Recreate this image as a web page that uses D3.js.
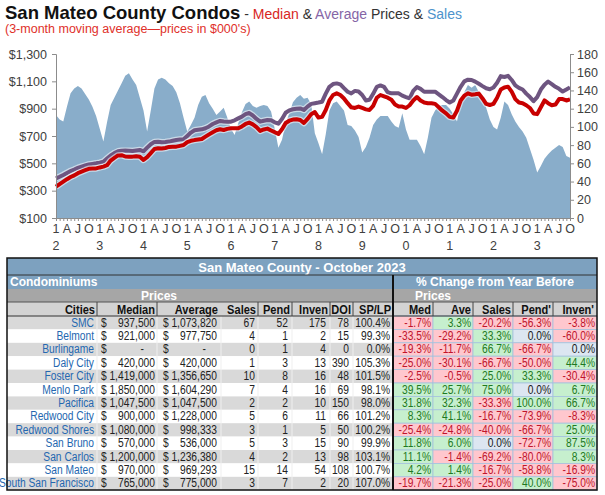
<!DOCTYPE html>
<html>
<head>
<meta charset="utf-8">
<script src="https://cdn.jsdelivr.net/npm/d3@7"></script>
<style>
  body { margin: 0; background: #fff; }
  svg { display: block; font-family: "Liberation Sans", Arial, sans-serif; }
</style>
</head>
<body>
<div class="chart"></div>
<script>
// ---- chart data: monthly, Jan 2012 .. Oct 2023 (3-month moving averages) ----
const salesData = [
  113,108,106,122,137,142,145,142,136,130,122,112,
  98,84,105,124,132,140,148,156,159,152,146,132,
  118,95,118,142,152,154,152,148,145,138,126,110,
  95,102,110,124,133,135,126,120,113,117,121,110,
  98,91,104,116,125,128,123,121,123,124,123,117,
  98,77,86,104,115,127,132,135,131,132,125,93,
  82,70,92,118,126,128,123,118,102,101,96,89,
  72,78,88,102,108,112,112,112,106,101,99,115,
  97,86,86,86,79,70,88,110,118,123,124,124,
  120,114,106,126,138,146,143,146,138,130,121,108,
  100,97,110,128,124,114,106,100,95,88,76,64,
  50,57,65,70,74,77,80,78,68,66
];
const medianData = [
  329,348,366,384,400,412,428,439,450,460,463,463,
  470,476,486,520,540,558,560,550,549,549,552,548,
  525,545,575,605,610,608,612,620,622,622,628,634,
  655,665,670,674,678,695,712,728,742,749,744,752,
  756,756,756,770,788,798,785,765,737,748,754,740,
  728,715,750,795,812,820,822,817,795,825,860,875,
  835,840,890,960,1000,1012,1000,975,940,910,905,915,
  905,895,890,920,980,1000,990,980,965,930,915,915,
  905,925,960,985,960,945,940,940,935,910,885,866,
  840,835,885,960,995,1012,1002,1005,1010,975,935,927,
  935,980,1040,1055,1061,1025,970,945,940,925,905,865,
  860,910,960,940,925,930,970,970,960,968
];
const averageData = [
  390,402,415,430,444,455,467,476,484,492,496,500,
  505,512,535,558,575,588,592,593,592,590,594,598,
  588,615,640,657,658,654,656,659,665,671,674,676,
  700,725,742,746,749,757,770,788,800,810,806,805,
  805,815,829,842,860,868,850,825,805,812,817,815,
  800,790,825,870,888,896,900,902,890,915,935,940,
  945,951,1010,1060,1080,1085,1078,1050,1024,1012,1030,1025,
  1000,960,965,1008,1060,1070,1060,1020,1012,1012,1012,995,
  985,976,1030,1058,1045,1024,1024,1024,1024,1005,985,963,
  945,960,1010,1060,1100,1112,1110,1098,1082,1065,1049,1042,
  1055,1090,1138,1132,1140,1110,1070,1052,1040,1010,985,955,
  985,1040,1075,1098,1080,1060,1045,1025,1040,1056
];
const quarterLabels = ["1","A","J","O"];
const yearLabels = ["2","3","4","5","6","7","8","9","0","1","2","3"];
const priceTicks = [100,300,500,700,900,1100,1300];
const salesTicks = [0,20,40,60,80,100,120,140,160,180];

// ---- table data ----
const cities = ["SMC","Belmont","Burlingame","Daly City","Foster City","Menlo Park","Pacifica",
  "Redwood City","Redwood Shores","San Bruno","San Carlos","San Mateo","South San Francisco"];
const tMedian = [937500,921000,null,420000,1419000,1850000,1047500,900000,1080000,570000,1200000,970000,765000];
const tAverage = [1073820,977750,null,420000,1356650,1604290,1047500,1228000,998333,536000,1236380,969293,775000];
const tSales = [67,4,0,1,10,7,2,5,3,5,4,15,3];
const tPend = [52,1,1,3,8,4,2,6,1,3,2,14,7];
const tInven = [175,2,4,13,16,16,10,11,5,15,13,54,2];
const tDOI = [78,15,0,390,48,69,150,66,50,90,98,108,20];
const tSPLP = [100.4,99.3,0.0,105.3,101.5,98.1,98.0,101.2,100.2,99.9,103.1,100.7,107.0];
const chgMed = [-1.7,-33.5,-19.3,-25.0,-2.5,39.5,31.8,8.3,-25.4,11.8,11.1,4.2,-19.7];
const chgAve = [3.3,-29.2,-11.7,-30.1,-0.5,25.7,32.3,41.1,-24.8,6.0,-1.4,1.4,-21.3];
const chgSales = [-20.2,33.3,66.7,-66.7,25.0,75.0,-33.3,-16.7,-40.0,0.0,-69.2,-16.7,-25.0];
const chgPend = [-56.3,0.0,-66.7,-50.0,33.3,0.0,100.0,-73.9,-66.7,-72.7,-80.0,-58.8,40.0];
const chgInven = [-3.8,-60.0,0.0,44.4,-30.4,6.7,66.7,-8.3,25.0,87.5,8.3,-16.9,-75.0];

const svg = d3.select(".chart").append("svg")
  .attr("width", 605)
  .attr("height", 495);

// ---- titles ----
const title = svg.append("text").attr("x", 5).attr("y", 19);
title.append("tspan").attr("font-weight", "bold").attr("font-size", "18.5px").attr("fill", "#111")
  .text("San Mateo County Condos");
[[" - ", "#333"], ["Median", "#d8261e"], [" & ", "#333"], ["Average", "#8565a6"],
 [" Prices & ", "#333"], ["Sales", "#4d93cc"]].forEach(p => {
  title.append("tspan").attr("font-size", "14px").attr("fill", p[1]).text(p[0]);
});
svg.append("text")
  .attr("x", 5).attr("y", 33)
  .attr("font-size", "12.5px")
  .attr("fill", "#e0302a")
  .text("(3-month moving average\u2014prices in $000's)");

// ---- chart ----
const xScale = d3.scaleLinear().domain([0, salesData.length - 1]).range([56, 570]);
const yLeft = d3.scaleLinear().domain([100, 1300]).range([218, 54]);
const yRight = d3.scaleLinear().domain([0, 180]).range([218, 54]);

svg.append("path")
  .datum(salesData)
  .attr("fill", "#89adca")
  .attr("d", d3.area().x((d, i) => xScale(i)).y0(yRight(0)).y1(d => yRight(d)));

const priceLine = d3.line().x((d, i) => xScale(i)).y(d => yLeft(d));
[[averageData, "#6e5580"], [medianData, "#c80000"]].forEach(s => {
  svg.append("path").datum(s[0])
    .attr("fill", "none").attr("stroke", "#fff").attr("stroke-opacity", 0.55)
    .attr("stroke-width", 6.5).attr("stroke-linejoin", "round")
    .attr("d", priceLine);
  svg.append("path").datum(s[0])
    .attr("fill", "none").attr("stroke", s[1])
    .attr("stroke-width", 4).attr("stroke-linejoin", "round")
    .attr("d", priceLine);
});

function styleAxis(g) {
  g.selectAll(".domain, line").attr("stroke", "#8c8c8c");
  g.selectAll("text").attr("fill", "#404040").attr("font-size", "12.5px")
    .attr("font-family", "'Liberation Sans', Arial, sans-serif");
}

svg.append("g")
  .attr("transform", "translate(56,0)")
  .call(d3.axisLeft(yLeft).tickValues(priceTicks).tickSize(4).tickPadding(5)
    .tickFormat(d => "$" + d3.format(",")(d)))
  .call(styleAxis);

svg.append("g")
  .attr("transform", "translate(570,0)")
  .call(d3.axisRight(yRight).tickValues(salesTicks).tickSize(4).tickPadding(3))
  .call(styleAxis);

svg.append("g")
  .attr("transform", "translate(0,218)")
  .call(d3.axisBottom(xScale).tickValues(d3.range(0, salesData.length)).tickSize(3).tickFormat(""))
  .call(styleAxis);

const qIdx = d3.range(0, salesData.length, 3);
svg.append("g").selectAll("text")
  .data(qIdx).enter().append("text")
  .attr("x", d => xScale(d)).attr("y", 233)
  .attr("text-anchor", "middle").attr("font-size", "12.5px").attr("fill", "#404040")
  .text(d => quarterLabels[(d / 3) % 4]);
svg.append("g").selectAll("text")
  .data(yearLabels).enter().append("text")
  .attr("x", (d, i) => xScale(i * 12)).attr("y", 250)
  .attr("text-anchor", "middle").attr("font-size", "12.5px").attr("fill", "#404040")
  .text(d => d);

// ---- table ----
const tb = svg.append("g");
const L = 7, R = 597, MID = 393;
const rowTop = 316, rowH = 13.4;
const leftCols = [97, 157, 221, 258, 292, 330, 353];
const rightCols = [393, 433, 473, 513, 553, 597];
const blueHead = "#7da1bf";
const squeeze = 0.82; // Arial Narrow look, no narrow font installed

// text drawn squeezed horizontally, anchored at (x, y)
function narrow(x, y, txt, opts) {
  opts = opts || {};
  return tb.append("text")
    .attr("transform", `translate(${x},${y}) scale(${squeeze},1)`)
    .attr("text-anchor", opts.anchor || "end")
    .attr("font-size", opts.size || "12px")
    .attr("font-weight", opts.weight || "normal")
    .attr("fill", opts.fill || "#222")
    .text(txt);
}

tb.append("rect").attr("x", L).attr("y", 258).attr("width", R - L).attr("height", 31).attr("fill", blueHead);
tb.append("rect").attr("x", L).attr("y", 289).attr("width", R - L).attr("height", 13).attr("fill", "#a6a6a6");
tb.append("rect").attr("x", L).attr("y", 302).attr("width", R - L).attr("height", 14).attr("fill", "#d3d3d3");

tb.append("text").attr("x", 302).attr("y", 271.5).attr("text-anchor", "middle")
  .attr("font-weight", "bold").attr("font-size", "13px").attr("fill", "#fff")
  .text("San Mateo County - October 2023");
tb.append("text").attr("x", 10).attr("y", 286)
  .attr("font-weight", "bold").attr("font-size", "12px").attr("fill", "#fff")
  .text("Condominiums");
tb.append("text").attr("x", 495).attr("y", 286).attr("text-anchor", "middle")
  .attr("font-weight", "bold").attr("font-size", "12px").attr("fill", "#fff")
  .text("% Change from Year Before");
[159, 433].forEach(cx => {
  tb.append("text").attr("x", cx).attr("y", 299.5).attr("text-anchor", "middle")
    .attr("font-weight", "bold").attr("font-size", "12px").attr("fill", "#fff")
    .text("Prices");
});

// data rows, left part
cities.forEach((c, r) => {
  tb.append("rect").attr("x", L).attr("y", rowTop + r * rowH)
    .attr("width", MID - L).attr("height", rowH)
    .attr("fill", r % 2 === 0 ? "#d9d9d9" : "#ffffff");
});
leftCols.forEach(cx => {
  tb.append("line").attr("x1", cx).attr("x2", cx).attr("y1", rowTop).attr("y2", 490)
    .attr("stroke", "#efefef").attr("stroke-width", 1);
});

// header labels
const headLeft = [["Cities", 95], ["Median", 155], ["Average", 218], ["Sales", 256], ["Pend", 290],
  ["Inven", 328], ["DOI", 351], ["SP/LP", 391]];
const headRight = [["Med", 431], ["Ave", 471], ["Sales", 511], ["Pend'", 551], ["Inven'", 594]];
headLeft.concat(headRight).forEach(h => {
  narrow(h[1], 313.5, h[0], {weight: "bold", size: "13.5px", fill: "#111"});
});

const fmt = d3.format(",");
const pct = v => v.toFixed(1) + "%";
function cell(x, r, txt, fill, anchor) {
  narrow(x, rowTop + r * rowH + 10.6, txt, {fill: fill, anchor: anchor, size: "12.5px"});
}
cities.forEach((c, r) => {
  cell(94, r, c, "#2467b0");
  cell(101, r, "$", "#222", "start");
  cell(163, r, "$", "#222", "start");
  cell(tMedian[r] === null ? 144 : 155, r, tMedian[r] === null ? "-" : fmt(tMedian[r]));
  cell(tAverage[r] === null ? 206 : 217, r, tAverage[r] === null ? "-" : fmt(tAverage[r]));
  cell(255, r, tSales[r]);
  cell(288, r, tPend[r]);
  cell(326, r, tInven[r]);
  cell(349, r, tDOI[r]);
  cell(390, r, pct(tSPLP[r]));
});

// data rows, right part (% change, coloured by sign)
const changes = [chgMed, chgAve, chgSales, chgPend, chgInven];
changes.forEach((col, j) => {
  col.forEach((v, r) => {
    const fill = v < 0 ? "#ffc7ce" : v > 0 ? "#c6efce" : "#dce6f1";
    const ink = v < 0 ? "#c0142c" : v > 0 ? "#1e7a22" : "#1a1a1a";
    tb.append("rect")
      .attr("x", rightCols[j]).attr("y", rowTop + r * rowH)
      .attr("width", rightCols[j + 1] - rightCols[j]).attr("height", rowH)
      .attr("fill", fill).attr("stroke", "#a4c2de").attr("stroke-width", 0.8);
    cell(rightCols[j + 1] - 2, r, pct(v), ink);
  });
});

// rules and borders
[[275, "#333"], [302, "#555"], [316, "#333"]].forEach(h => {
  tb.append("line").attr("x1", L).attr("x2", R).attr("y1", h[0]).attr("y2", h[0])
    .attr("stroke", h[1]).attr("stroke-width", 1);
});
leftCols.filter(cx => cx !== 221).concat(rightCols.slice(1, 5)).forEach(cx => {
  tb.append("line").attr("x1", cx).attr("x2", cx).attr("y1", 302).attr("y2", 316)
    .attr("stroke", "#444").attr("stroke-width", 1);
});
tb.append("line").attr("x1", MID).attr("x2", MID).attr("y1", 275).attr("y2", 490)
  .attr("stroke", "#111").attr("stroke-width", 2);
tb.append("rect").attr("x", L).attr("y", 258).attr("width", R - L).attr("height", 232)
  .attr("fill", "none").attr("stroke", "#111").attr("stroke-width", 1.5);
</script>
</body>
</html>
